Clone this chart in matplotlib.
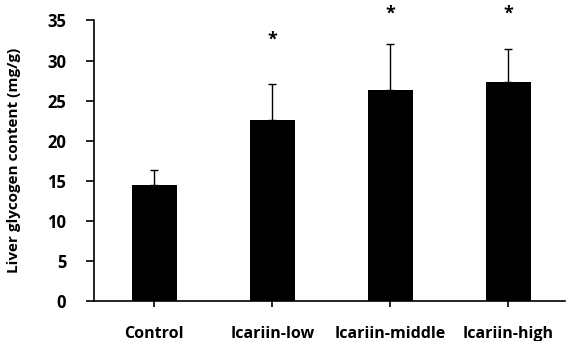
import numpy as np
import matplotlib
matplotlib.use("Agg")
import matplotlib.pyplot as plt

groups = ["Control", "Icariin-low", "Icariin-middle", "Icariin-high"]
means = [14.4, 22.6, 26.3, 27.3]
sd = [1.9, 4.5, 5.7, 4.1]
star_y = [None, 32.6, 35.8, 35.8]

plt.rcParams['font.family'] = ['Open Sans', 'DejaVu Sans']
plt.rcParams['font.weight'] = 'bold'

fig = plt.figure(figsize=(5.74, 3.41), dpi=100)
ax = fig.add_axes([0.164, 0.118, 0.82, 0.822])

x = np.arange(len(groups))
ax.bar(x, means, width=0.38, color='black',
       yerr=[np.zeros(len(sd)), sd], capsize=3,
       error_kw=dict(ecolor='black', elinewidth=1, capthick=1))

for xi, s in zip(x, star_y):
    if s is not None:
        ax.text(xi, s, '*', ha='center', va='center', fontsize=13,
                fontweight='bold', clip_on=False)

ax.set_ylim(0, 35)
ax.set_xlim(-0.51, 3.48)
ax.set_yticks(range(0, 36, 5))
ax.set_xticks(x)
ax.set_xticklabels(groups)
ax.set_ylabel('Liver glycogen content (mg/g)', fontsize=11, fontweight='bold')
ax.yaxis.set_label_coords(-0.155, 0.5)

for side in ['top', 'right']:
    ax.spines[side].set_visible(False)
ax.spines['left'].set_linewidth(1.2)
ax.spines['bottom'].set_linewidth(1.2)
ax.tick_params(axis='y', direction='out', length=6, width=1.2, labelsize=12, pad=14)
ax.tick_params(axis='x', direction='inout', length=8, width=1.2, labelsize=11.5, pad=14)

fig.savefig('out.png', dpi=100)
